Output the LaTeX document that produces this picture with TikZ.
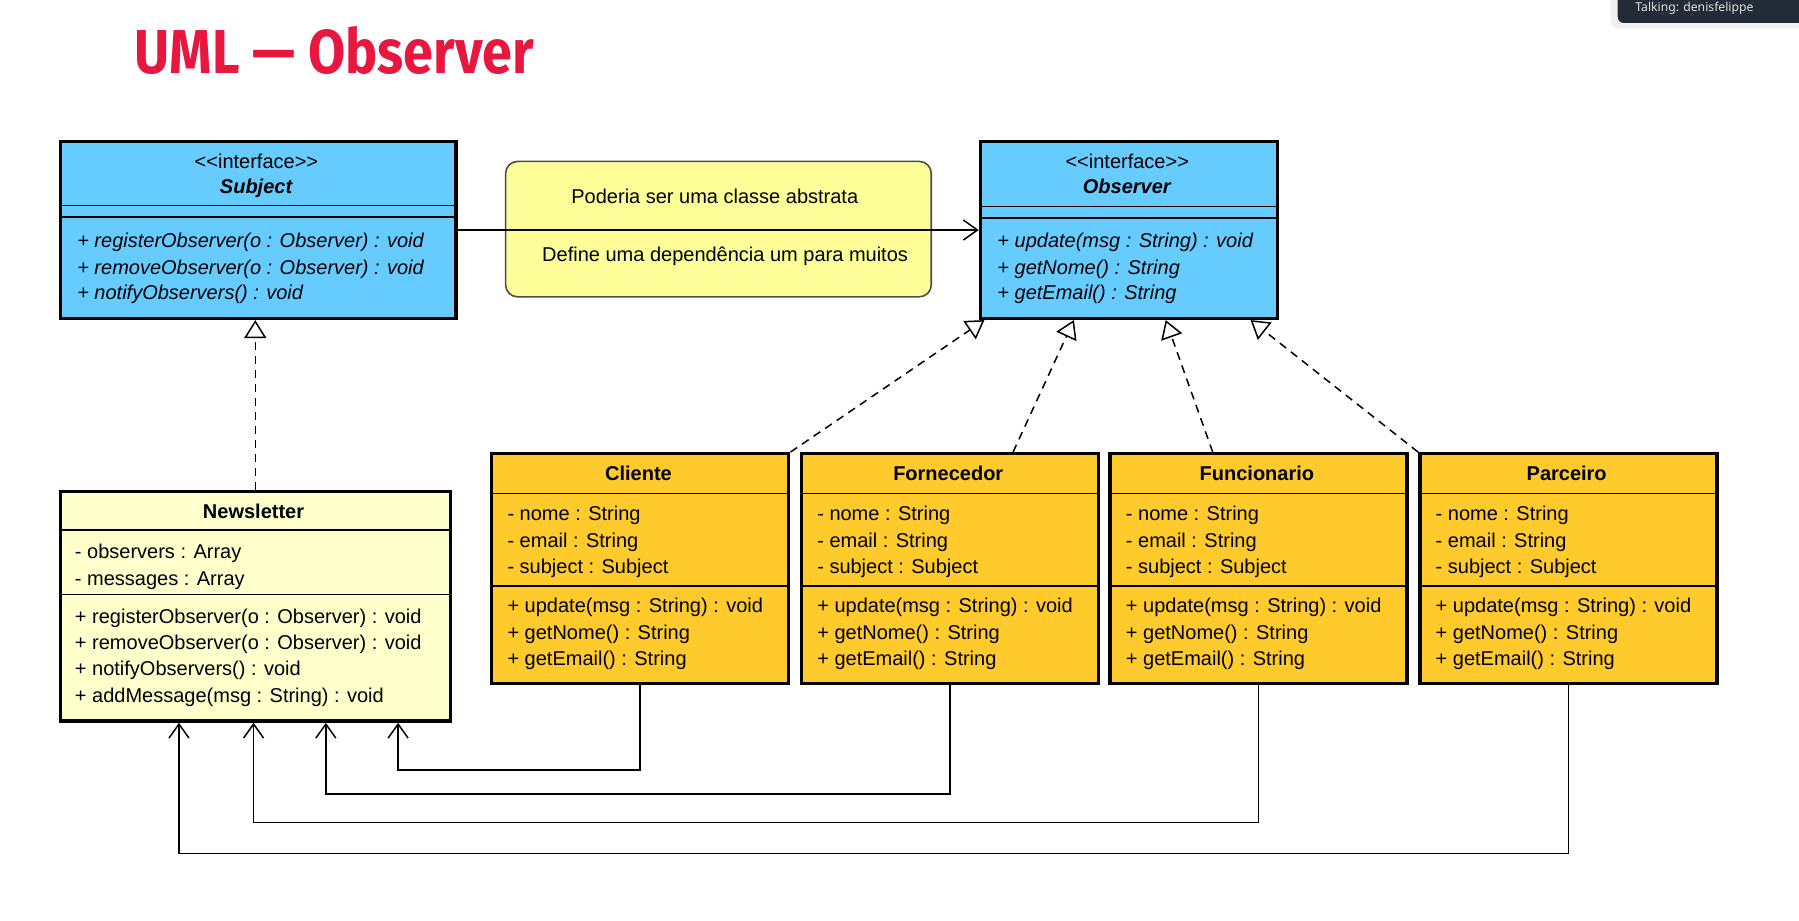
\documentclass[tikz,border=0pt]{standalone}
\usepackage{fontspec}
\setmainfont{Liberation Sans}
\newfontfamily\titlefont[FakeStretch=0.87]{Fira Sans}
\newfontfamily\talkfont{Noto Sans}
\usetikzlibrary{arrows.meta,calc,positioning}

\definecolor{subjectblue}{RGB}{102,204,255}
\definecolor{classorange}{RGB}{255,202,43}
\definecolor{newsyellow}{RGB}{255,255,204}
\definecolor{noteyellow}{RGB}{255,255,153}
\definecolor{titlered}{RGB}{232,23,63}
\definecolor{talkbg}{RGB}{35,43,54}
\newcommand{\unitpx}{0.5737pt}

\tikzset{
  umlbox/.style={draw=black, line width=1.7pt, inner sep=0pt, anchor=north west},
  notebox/.style={draw=black!70, line width=0.8pt, rounded corners=6pt, fill=noteyellow, inner sep=0pt, anchor=north west},
  member/.style={anchor=base west, inner sep=0pt, font=\fontsize{10}{12}\selectfont},
  classname/.style={anchor=base, inner sep=0pt, font=\fontsize{10}{12}\selectfont\bfseries},
  sepline/.style={line width=0.8pt},
  realize/.style={dash pattern=on 4pt off 3pt, line width=0.75pt, -{Triangle[open,length=9pt,width=11pt]}},
  depend/.style={line width=0.75pt, -{Straight Barb[length=7pt,width=10pt]}}
}

\begin{document}
\begin{tikzpicture}[x=\unitpx, y=-\unitpx]
  \useasboundingbox (0,0) rectangle (1568,802);

  % title and the meeting banner
  \node[anchor=base west, inner sep=0pt, text=titlered, font=\titlefont\bfseries\fontsize{31}{31}\selectfont] (title) at (117,64) {UML — Observer};
  \fill[black!6, rounded corners=4pt] (1404,-10) rectangle (1580,25);
  \fill[talkbg, rounded corners=3pt] (1410,-10) rectangle (1580,20);
  \node[anchor=west, inner sep=0pt, text=white!85!talkbg, font=\talkfont\fontsize{6.1}{7}\selectfont] (talking) at (1425,7) {Talking: denisfelippe};

  % Subject
  \node[umlbox, fill=subjectblue, minimum width=345*\unitpx, minimum height=154*\unitpx] (subject) at (51,122) {};
  \draw[sepline] (51,179) -- (396,179);
  \draw[sepline] (51,189) -- (396,189);
  \node[classname, font=\fontsize{10}{12}\selectfont] at (223.5,147) {<{}<interface>{}>};
  \node[classname] at (223.5,169) {\textit{Subject}};
  \node[member] at (67,216) {\textit{+ registerObserver(o : Observer) : void}};
  \node[member] at (67,239) {\textit{+ removeObserver(o : Observer) : void}};
  \node[member] at (67,261) {\textit{+ notifyObservers() : void}};

  % Observer
  \node[umlbox, fill=subjectblue, minimum width=259*\unitpx, minimum height=154*\unitpx] (observer) at (853,122) {};
  \draw[sepline] (853,180) -- (1112,180);
  \draw[sepline] (853,190) -- (1112,190);
  \node[classname, font=\fontsize{10}{12}\selectfont] at (982.5,147) {<{}<interface>{}>};
  \node[classname] at (982.5,169) {\textit{Observer}};
  \node[member] at (869,216) {\textit{+ update(msg : String) : void}};
  \node[member] at (869,239) {\textit{+ getNome() : String}};
  \node[member] at (869,261) {\textit{+ getEmail() : String}};

  % note
  \node[notebox, minimum width=371*\unitpx, minimum height=118*\unitpx] (note) at (440,140) {};
  \node[anchor=base, inner sep=0pt, font=\fontsize{10}{12}\selectfont] at (623,177) {Poderia ser uma classe abstrata};
  \node[anchor=base, inner sep=0pt, font=\fontsize{10}{12}\selectfont] at (632,228) {Define uma dependência um para muitos};
  \draw[depend] (subject.east) -- (subject.east -| observer.west);

  % Newsletter
  \node[umlbox, fill=newsyellow, minimum width=340*\unitpx, minimum height=200*\unitpx] (newsletter) at (51,427) {};
  \draw[sepline] (51,462) -- (391,462);
  \draw[sepline] (51,518) -- (391,518);
  \node[classname] at (221,452) {Newsletter};
  \node[member] at (65,487) {- observers : Array};
  \node[member] at (65,510) {- messages : Array};
  \node[member] at (65,543) {+ registerObserver(o : Observer) : void};
  \node[member] at (65,566) {+ removeObserver(o : Observer) : void};
  \node[member] at (65,589) {+ notifyObservers() : void};
  \node[member] at (65,612) {+ addMessage(msg : String) : void};
  \draw[realize] (newsletter.north) -- (newsletter.north |- subject.south);

  % observers
  \foreach \cname/\clabel/\cx in {cliente/Cliente/427, fornecedor/Fornecedor/697, funcionario/Funcionario/966, parceiro/Parceiro/1236} {
    \node[umlbox, fill=classorange, minimum width=259*\unitpx, minimum height=200*\unitpx] (\cname) at (\cx,394) {};
    \draw[sepline] (\cx,430) -- ++(259,0);
    \draw[sepline] (\cx,511) -- ++(259,0);
    \node[classname] at (\cx+129.5,419) {\clabel};
    \node[member] at (\cx+15,454) {- nome : String};
    \node[member] at (\cx+15,477) {- email : String};
    \node[member] at (\cx+15,500) {- subject : Subject};
    \node[member] at (\cx+15,534) {+ update(msg : String) : void};
    \node[member] at (\cx+15,557) {+ getNome() : String};
    \node[member] at (\cx+15,580) {+ getEmail() : String};
  }

  \draw[realize] (cliente.north east) -- ($(observer.south west)+(5,0)$);
  \draw[realize] ($(fornecedor.north)+(55,0)$) -- ($(observer.south west)+(83,0)$);
  \draw[realize] ($(funcionario.north)+(-40,0)$) -- ($(observer.south west)+(163,0)$);
  \draw[realize] (parceiro.north west) -- ($(observer.south west)+(237,0)$);

  \draw[depend] (cliente.south) -- ++(0,74) -| ($(newsletter.south west)+(296,0)$);
  \draw[depend] (fornecedor.south) -- ++(0,95) -| ($(newsletter.south west)+(233,0)$);
  \draw[depend] (funcionario.south) -- ++(0,120) -| ($(newsletter.south west)+(170,0)$);
  \draw[depend] (parceiro.south) -- ++(0,147) -| ($(newsletter.south west)+(105,0)$);
\end{tikzpicture}
\end{document}
